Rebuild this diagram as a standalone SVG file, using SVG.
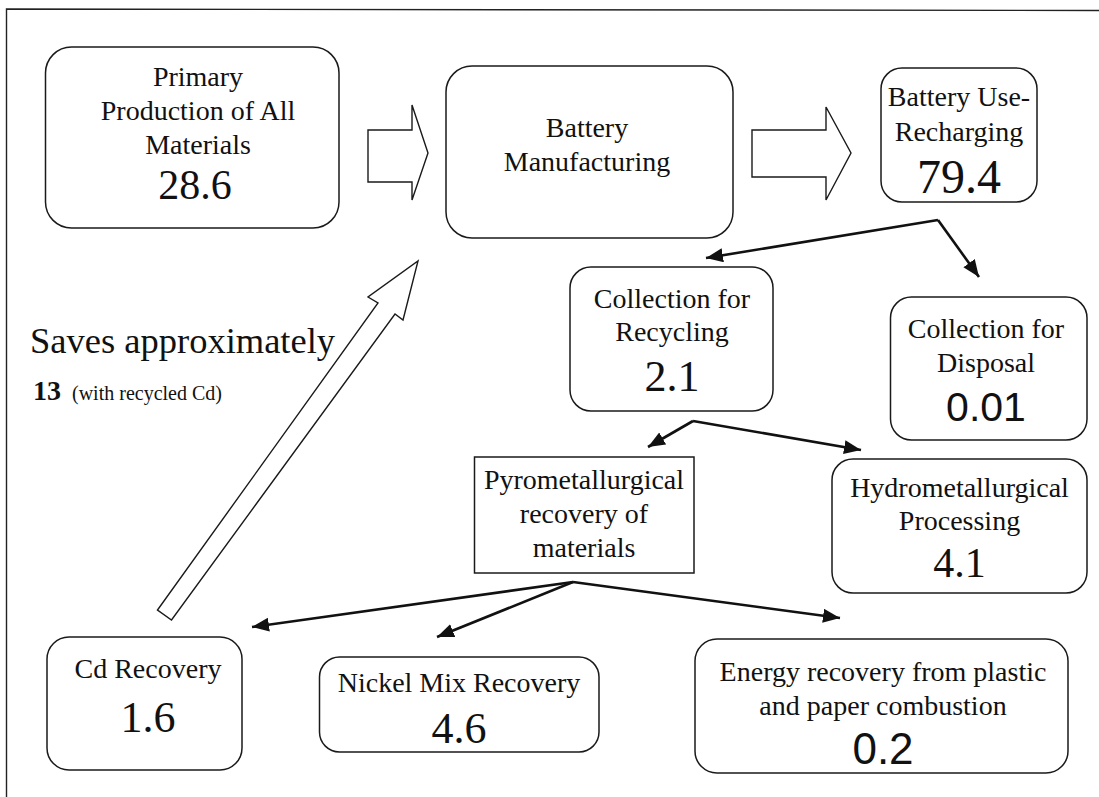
<svg xmlns="http://www.w3.org/2000/svg" width="1099" height="797" viewBox="0 0 1099 797">
<style>
.box{fill:#fff;stroke:#1a1a1a;stroke-width:1.5}
.lbl{font-family:"Liberation Serif","Times New Roman",serif;font-size:28px;fill:#111;text-anchor:middle}
.num{font-family:"Liberation Serif","Times New Roman",serif;font-size:44px;fill:#111;text-anchor:middle}
.sans{font-family:"Liberation Sans",Arial,sans-serif;font-size:41px;fill:#111;text-anchor:middle}
.hollow{fill:#fff;stroke:#1a1a1a;stroke-width:1.4;stroke-linejoin:miter}
.conn{fill:none;stroke:#111;stroke-width:2.6;marker-end:url(#ah)}
</style>
<defs>
<marker id="ah" markerUnits="userSpaceOnUse" markerWidth="20" markerHeight="16" refX="17" refY="7" orient="auto">
<path d="M0,0 L17,7 L0,14 z" fill="#111"/>
</marker>
</defs>
<rect width="1099" height="797" fill="#fff"/>
<g id="frame" fill="none" stroke="#222" stroke-width="1.4">
<path d="M6.5,797 L6.5,9 L1099,10.5"/>
</g>
<g id="arrows-hollow">
<polygon class="hollow" points="368,130 412,130 412,105 428,153 412,200 412,182 368,182"/>
<polygon class="hollow" points="752,130 826,130 826,107 851,153 826,200 826,177 752,177"/>
<polygon class="hollow" points="157.5,610 378,303 368,297 418,261 403,320 395,314 171.5,620"/>
</g>
<g id="connectors">
<path class="conn" d="M938,220 L706,258"/>
<path class="conn" d="M938,220 L979,277"/>
<path class="conn" d="M693,421 L648,447"/>
<path class="conn" d="M693,421 L861,450"/>
<path class="conn" d="M573,582 L252,627"/>
<path class="conn" d="M573,582 L437,637"/>
<path class="conn" d="M573,582 L840,618"/>
</g>
<g id="primary">
<rect class="box" x="45.5" y="47" width="293.5" height="181" rx="26"/>
<text class="lbl" x="198" y="86">Primary</text>
<text class="lbl" x="198" y="120">Production of All</text>
<text class="lbl" x="198" y="154">Materials</text>
<text class="num" x="195" y="199" style="font-size:42px">28.6</text>
</g>
<g id="manufacturing">
<rect class="box" x="446" y="66" width="287" height="172" rx="26"/>
<text class="lbl" x="587" y="137">Battery</text>
<text class="lbl" x="587" y="171">Manufacturing</text>
</g>
<g id="use">
<rect class="box" x="881" y="68" width="156" height="134" rx="21"/>
<text class="lbl" x="959" y="106">Battery Use-</text>
<text class="lbl" x="959" y="141">Recharging</text>
<text class="num" x="959" y="193" style="font-size:48px">79.4</text>
</g>
<g id="recycling">
<rect class="box" x="570" y="267" width="203" height="144" rx="21"/>
<text class="lbl" x="672" y="308">Collection for</text>
<text class="lbl" x="672" y="341">Recycling</text>
<text class="num" x="672" y="391">2.1</text>
</g>
<g id="disposal">
<rect class="box" x="890.5" y="297" width="196.5" height="143" rx="21"/>
<text class="lbl" x="986" y="338">Collection for</text>
<text class="lbl" x="986" y="372">Disposal</text>
<text class="sans" x="986" y="421">0.01</text>
</g>
<g id="pyro">
<rect class="box" x="474.5" y="457" width="219.5" height="116"/>
<text class="lbl" x="584" y="489">Pyrometallurgical</text>
<text class="lbl" x="584" y="523">recovery of</text>
<text class="lbl" x="584" y="557">materials</text>
</g>
<g id="hydro">
<rect class="box" x="832" y="459" width="255" height="134" rx="21"/>
<text class="lbl" x="959.5" y="497">Hydrometallurgical</text>
<text class="lbl" x="959.5" y="530">Processing</text>
<text class="num" x="959.5" y="577" style="font-size:42px">4.1</text>
</g>
<g id="cd">
<rect class="box" x="47" y="637" width="195" height="133" rx="22"/>
<text class="lbl" x="148" y="678">Cd Recovery</text>
<text class="num" x="148" y="732">1.6</text>
</g>
<g id="nickel">
<rect class="box" x="319.5" y="657" width="279.5" height="95" rx="20"/>
<text class="lbl" x="459" y="692">Nickel Mix Recovery</text>
<text class="num" x="459" y="743">4.6</text>
</g>
<g id="energy">
<rect class="box" x="695" y="639" width="373" height="134" rx="22"/>
<text class="lbl" x="883" y="681">Energy recovery from plastic</text>
<text class="lbl" x="883" y="715">and paper combustion</text>
<text class="sans" x="883" y="764" style="font-size:44px">0.2</text>
</g>
<g id="savings">
<text x="30" y="353" style="font-family:'Liberation Serif','Times New Roman',serif;font-size:36.5px;fill:#111">Saves approximately</text>
<text x="33" y="400" style="font-family:'Liberation Serif','Times New Roman',serif;font-size:28px;font-weight:bold;fill:#111">13 <tspan style="font-size:20px;font-weight:normal" dx="4">(with recycled Cd)</tspan></text>
</g>
</svg>
